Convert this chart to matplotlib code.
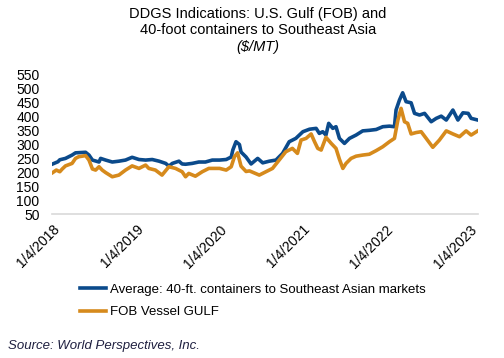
import matplotlib
matplotlib.use("Agg")
import matplotlib.pyplot as plt
import pandas as pd

plt.rcParams['font.family'] = ['Liberation Sans', 'DejaVu Sans']

# Average: 40-ft. containers to Southeast Asian markets ($/MT)
container_dates = [
    '2018-01-04', '2018-01-27', '2018-02-04', '2018-03-01', '2018-03-30', '2018-04-14',
    '2018-05-28', '2018-06-12', '2018-06-27', '2018-07-26', '2018-08-02', '2018-08-24',
    '2018-09-22', '2018-10-21', '2018-11-19', '2018-12-18', '2019-01-17', '2019-02-15',
    '2019-03-16', '2019-04-15', '2019-05-14', '2019-05-28', '2019-06-12', '2019-07-11',
    '2019-07-25', '2019-08-09', '2019-09-07', '2019-10-06', '2019-11-04', '2019-12-04',
    '2020-01-05', '2020-02-03', '2020-02-25', '2020-03-03', '2020-03-17', '2020-04-01',
    '2020-04-08', '2020-04-30', '2020-05-22', '2020-06-20', '2020-07-12', '2020-08-10',
    '2020-09-08', '2020-10-07', '2020-11-05', '2020-12-04', '2021-01-04', '2021-02-02',
    '2021-03-03', '2021-03-17', '2021-04-01', '2021-04-15', '2021-04-27', '2021-05-15',
    '2021-05-29', '2021-06-13', '2021-07-05', '2021-07-27', '2021-08-25', '2021-09-23',
    '2021-10-22', '2021-11-21', '2021-12-20', '2022-01-18', '2022-02-09', '2022-02-16',
    '2022-03-03', '2022-03-17', '2022-04-01', '2022-04-23', '2022-05-08', '2022-05-30',
    '2022-06-21', '2022-07-20', '2022-08-11', '2022-09-02', '2022-09-24', '2022-10-23',
    '2022-11-14', '2022-12-06', '2022-12-29', '2023-01-11', '2023-02-09',
]
container_vals = [
    230, 238, 245, 250, 262, 270,
    272, 262, 244, 237, 250, 244,
    237, 240, 244, 254, 246, 244,
    246, 240, 232, 222, 232, 240,
    230, 229, 232, 237, 237, 244,
    244, 246, 255, 280, 310, 300,
    273, 255, 230, 250, 234, 240,
    244, 268, 310, 322, 346, 355,
    358, 340, 346, 334, 376, 358,
    364, 322, 304, 322, 334, 349,
    351, 354, 364, 366, 364, 424,
    460, 486, 454, 450, 412, 406,
    412, 382, 394, 402, 388, 424,
    388, 414, 412, 394, 388,
]

# FOB Vessel GULF ($/MT)
fob_dates = [
    '2018-01-04', '2018-01-20', '2018-02-04', '2018-02-15', '2018-03-01', '2018-03-30',
    '2018-04-14', '2018-04-28', '2018-05-13', '2018-05-28', '2018-06-12', '2018-06-27',
    '2018-07-11', '2018-07-26', '2018-08-09', '2018-08-24', '2018-09-22', '2018-10-21',
    '2018-11-19', '2018-12-18', '2019-01-17', '2019-02-15', '2019-03-01', '2019-03-30',
    '2019-04-28', '2019-05-28', '2019-06-26', '2019-07-25', '2019-08-09', '2019-08-23',
    '2019-09-21', '2019-10-21', '2019-11-19', '2020-01-05', '2020-02-03', '2020-02-25',
    '2020-03-10', '2020-03-24', '2020-04-08', '2020-04-30', '2020-05-15', '2020-06-27',
    '2020-07-26', '2020-08-24', '2020-09-22', '2020-10-21', '2020-11-19', '2020-12-11',
    '2020-12-27', '2021-01-18', '2021-02-09', '2021-02-24', '2021-03-10', '2021-03-25',
    '2021-04-15', '2021-05-08', '2021-05-29', '2021-06-13', '2021-06-28', '2021-07-12',
    '2021-08-03', '2021-08-25', '2021-09-23', '2021-10-22', '2021-11-21', '2021-12-20',
    '2022-01-18', '2022-02-09', '2022-02-24', '2022-03-10', '2022-03-25', '2022-04-08',
    '2022-04-23', '2022-05-15', '2022-06-06', '2022-06-28', '2022-07-27', '2022-08-25',
    '2022-09-24', '2022-10-23', '2022-11-21', '2022-12-20', '2023-01-11', '2023-02-09',
]
fob_vals = [
    199, 208, 202, 212, 223, 232,
    250, 256, 258, 260, 244, 212,
    208, 220, 208, 199, 184, 190,
    208, 223, 214, 226, 214, 208,
    190, 220, 214, 202, 184, 196,
    186, 202, 214, 214, 208, 220,
    256, 270, 222, 203, 205, 190,
    202, 214, 244, 274, 286, 268,
    316, 322, 338, 310, 286, 280,
    326, 304, 286, 247, 214, 232,
    250, 258, 262, 265, 278, 292,
    310, 322, 388, 430, 382, 376,
    338, 343, 346, 322, 290, 316,
    349, 338, 328, 349, 334, 349,
]

y_ticks = list(range(50, 551, 50))
x_ticks = ['2018-01-04', '2019-01-04', '2020-01-04', '2021-01-04', '2022-01-04', '2023-01-04']

blue = '#0b4a8b'
orange = '#d68a1c'

fig = plt.figure(figsize=(5.04, 3.58), dpi=100)
ax = fig.add_axes([52 / 504, 1 - 214 / 358, 426 / 504, 139 / 358])

ax.plot(pd.to_datetime(container_dates), container_vals, color=blue, lw=2.6,
        label='Average: 40-ft. containers to Southeast Asian markets')
ax.plot(pd.to_datetime(fob_dates), fob_vals, color=orange, lw=2.6,
        label='FOB Vessel GULF')

ax.set_ylim(50, 550)
ax.set_yticks(y_ticks)
ax.set_xlim(pd.Timestamp('2018-01-01'), pd.Timestamp('2023-02-10'))
ticks = pd.to_datetime(x_ticks)
ax.set_xticks(ticks)
ax.set_xticklabels([f'{d.month}/{d.day}/{d.year}' for d in ticks],
                   rotation=45, ha='right', va='top', rotation_mode='anchor')

for s in ['top', 'right', 'left']:
    ax.spines[s].set_visible(False)
ax.spines['bottom'].set_color('#d9d9d9')
ax.spines['bottom'].set_linewidth(1.2)
ax.tick_params(axis='both', length=0, labelsize=10, colors='#000000')
ax.tick_params(axis='y', pad=9)
ax.tick_params(axis='x', pad=6)

fig.text(0.512, 1 - 7 / 358, 'DDGS Indications: U.S. Gulf (FOB) and\n40-foot containers to Southeast Asia',
         ha='center', va='top', fontsize=10.5, linespacing=1.22)
fig.text(0.512, 1 - 47 / 358, '($/MT)', ha='center', va='center', fontsize=10.5, style='italic')

fig.legend(loc='upper left', bbox_to_anchor=(68 / 504, 1 - 272 / 358), frameon=False,
           fontsize=9.5, handlelength=2.0, handletextpad=0.25, labelspacing=0.75)

fig.text(8 / 504, 1 - 346 / 358, 'Source: World Perspectives, Inc.', ha='left', va='center',
         fontsize=9.5, style='italic', color='#1f2040')

fig.savefig('out.png', dpi=100)
